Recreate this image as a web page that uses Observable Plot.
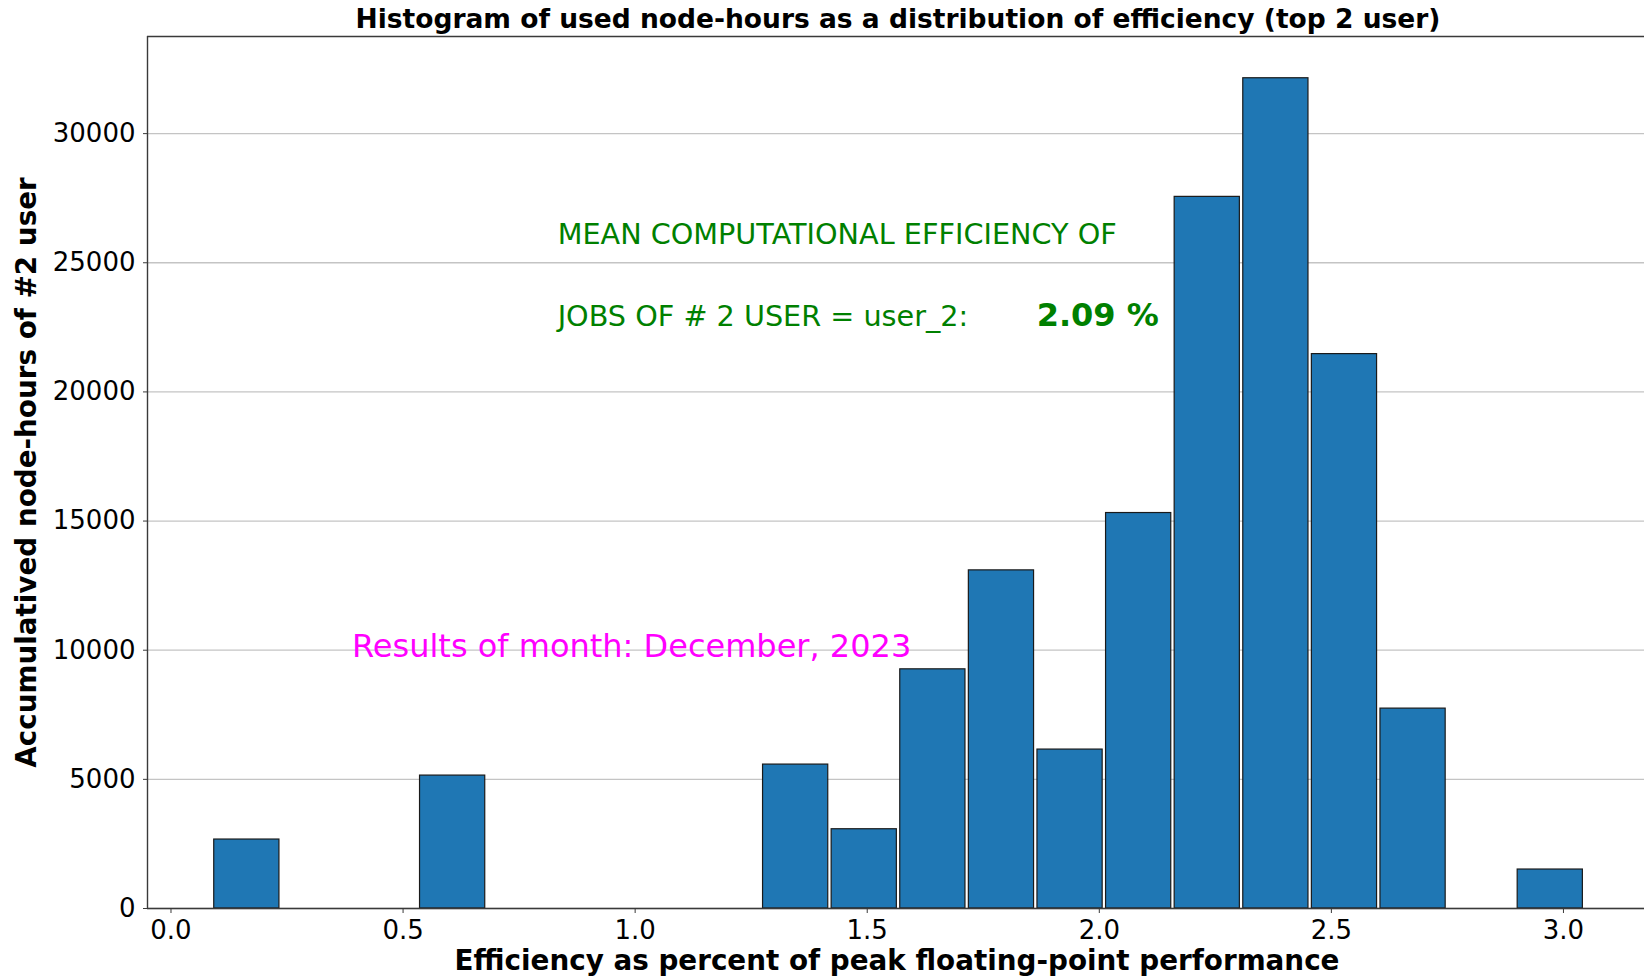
<!DOCTYPE html>
<html>
<head>
<meta charset="utf-8">
<script src="https://cdn.jsdelivr.net/npm/d3@7"></script>
<script src="https://cdn.jsdelivr.net/npm/@observablehq/plot@0.6"></script>
<style>
  html, body { margin: 0; padding: 0; background: #ffffff; }
  #chart svg { display: block; }
</style>
</head>
<body>
<div id="chart"></div>
<script>
// ---- data ----
const binStart = [0.0895, 0.2373, 0.3851, 0.5329, 0.6807, 0.8285, 0.9763, 1.1241, 1.2719, 1.4197,
                  1.5675, 1.7153, 1.8631, 2.0109, 2.1587, 2.3065, 2.4543, 2.6021, 2.7499, 2.8977];
const binEnd   = [0.2373, 0.3851, 0.5329, 0.6807, 0.8285, 0.9763, 1.1241, 1.2719, 1.4197, 1.5675,
                  1.7153, 1.8631, 2.0109, 2.1587, 2.3065, 2.4543, 2.6021, 2.7499, 2.8977, 3.0455];
const nodeHours = [2670, 0, 0, 5146, 0, 0, 0, 0, 5572, 3069,
                   9260, 13091, 6153, 15311, 27551, 32144, 21464, 7739, 0, 1509];
const xTicks = [0.0, 0.5, 1.0, 1.5, 2.0, 2.5, 3.0];
const yTicks = [0, 5000, 10000, 15000, 20000, 25000, 30000];
const xDomain = [-0.0506, 3.1746];
const yDomain = [0, 33760];

const titleText = "Histogram of used node-hours as a distribution of efficiency (top 2 user)";
const xLabelText = "Efficiency as percent of peak floating-point performance";
const yLabelText = "Accumulatived node-hours of #2 user";
const meanLine1 = "MEAN COMPUTATIONAL EFFICIENCY OF";
const meanLine2 = "JOBS OF # 2 USER = user_2:";
const meanValue = "2.09 %";
const monthText = "Results of month: December, 2023";

const bins = binStart.map((x1, i) => ({x1, x2: binEnd[i], y: nodeHours[i]})).filter(d => d.y > 0);

const FONT = "'DejaVu Sans', 'Liberation Sans', sans-serif";

const chart = Plot.plot({
  width: 1644,
  height: 979,
  marginLeft: 147,
  marginRight: 0,
  marginTop: 36,
  marginBottom: 71,
  style: {fontFamily: FONT, fontSize: "26px", background: "#ffffff", color: "#000000", overflow: "visible"},
  x: {domain: xDomain},
  y: {domain: yDomain},
  marks: [
    Plot.gridY(yTicks, {stroke: "#c4c4c4", strokeOpacity: 1, strokeWidth: 1.3}),
    Plot.rectY(bins, {x1: "x1", x2: "x2", y: "y", fill: "#1f77b4", stroke: "#1a1a1a", strokeWidth: 1.2, insetLeft: 1.7, insetRight: 1.7}),
    Plot.ruleX([xDomain[0]], {stroke: "#3a3a3a", strokeWidth: 1.4}),
    Plot.ruleY([yDomain[0], yDomain[1]], {stroke: "#3a3a3a", strokeWidth: 1.4}),
    Plot.axisY(yTicks, {tickSize: 4, tickPadding: 8, tickFormat: d => String(d), label: null, fontSize: 26, stroke: "#3a3a3a"}),
    Plot.axisX(xTicks, {tickSize: 5, tickPadding: 7, tickFormat: d3.format(".1f"), label: null, fontSize: 26, stroke: "#3a3a3a"}),
    Plot.text([titleText], {text: d => d, frameAnchor: "top", lineAnchor: "middle", textAnchor: "middle", dx: 2, dy: -17, fontWeight: "bold", fontSize: 26.5, fill: "#000"}),
    Plot.text([xLabelText], {text: d => d, frameAnchor: "bottom", lineAnchor: "middle", textAnchor: "middle", dx: 1, dy: 53, fontWeight: "bold", fontSize: 27.8, fill: "#000"}),
    Plot.text([yLabelText], {text: d => d, frameAnchor: "left", lineAnchor: "middle", textAnchor: "middle", dx: -120, rotate: -90, fontWeight: "bold", fontSize: 27.8, fill: "#000"}),
    Plot.text([meanLine1], {text: d => d, x: 0.833, y: 26080, textAnchor: "start", fontSize: 28.7, fill: "#008000"}),
    Plot.text([meanLine2], {text: d => d, x: 0.833, y: 22910, textAnchor: "start", fontSize: 28.7, fill: "#008000"}),
    Plot.text([meanValue], {text: d => d, x: 1.865, y: 22950, textAnchor: "start", fontSize: 32, fontWeight: "bold", fill: "#008000"}),
    Plot.text([monthText], {text: d => d, x: 0.39, y: 10140, textAnchor: "start", fontSize: 32, fill: "#ff00ff"})
  ]
});

document.getElementById("chart").appendChild(chart);
</script>
</body>
</html>
